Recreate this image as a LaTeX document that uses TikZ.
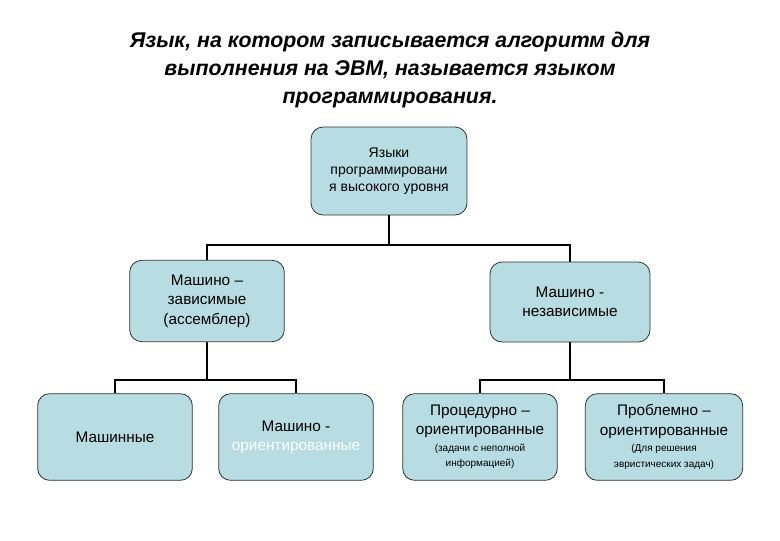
\documentclass[tikz,border=0pt]{standalone}
\usepackage{fontspec}
\setmainfont{Liberation Sans}
\newcommand{\smtxt}{\fontsize{7.5}{9}\selectfont}
\begin{document}
\begin{tikzpicture}[x=0.75pt,y=-0.75pt,
  bx/.style={draw=black!80,line width=0.6pt,fill=boxc,rounded corners=9pt,align=center,inner sep=1pt,font=\fontsize{11.5}{14.5}\selectfont},
  ln/.style={line width=1.6pt}]
\definecolor{boxc}{RGB}{183,221,227}
\useasboundingbox (0,0) rectangle (780,540);
\node[align=center,font=\fontsize{16}{21}\selectfont\bfseries\itshape] (title) at (390,70)
 {Язык, на котором записывается алгоритм для\\выполнения на ЭВМ, называется языком\\программирования.};
\node[bx,font=\fontsize{10.5}{13}\selectfont,minimum width=117pt,minimum height=66pt] (top) at (389,171) {Языки\\программировани\\я высокого уровня};
\node[bx,minimum width=116pt,minimum height=61pt] (ml) at (207,301) {Машино --\\зависимые\\(ассемблер)};
\node[bx,minimum width=120pt,minimum height=60pt] (mr) at (570,302) {Машино -\\независимые};
\node[bx,minimum width=116pt,minimum height=65pt] (b1) at (115,437) {Машинные};
\node[bx,minimum width=116pt,minimum height=65pt] (b2) at (296,437) {Машино -\\\textcolor{white}{ориентированные}};
\node[bx,minimum width=116pt,minimum height=65pt] (b3) at (480,437) {Процедурно --\\ориентированные\\[-2pt]\smtxt (задачи с неполной\\[-3pt]\smtxt информацией)};
\node[bx,minimum width=118pt,minimum height=65pt] (b4) at (664,437) {Проблемно --\\ориентированные\\[-2pt]\smtxt (Для решения\\[-3pt]\smtxt эвристических задач)};
\draw[ln] (top.south) -- ++(0,30) -| (ml.north);
\draw[ln] (top.south) ++(0,30) -| (mr.north);
\draw[ln] (ml.south) -- ++(0,38) -| (b1.north);
\draw[ln] (ml.south) ++(0,38) -| (b2.north);
\draw[ln] (mr.south) -- ++(0,38) -| (b3.north);
\draw[ln] (mr.south) ++(0,38) -| (b4.north);
\end{tikzpicture}
\end{document}
